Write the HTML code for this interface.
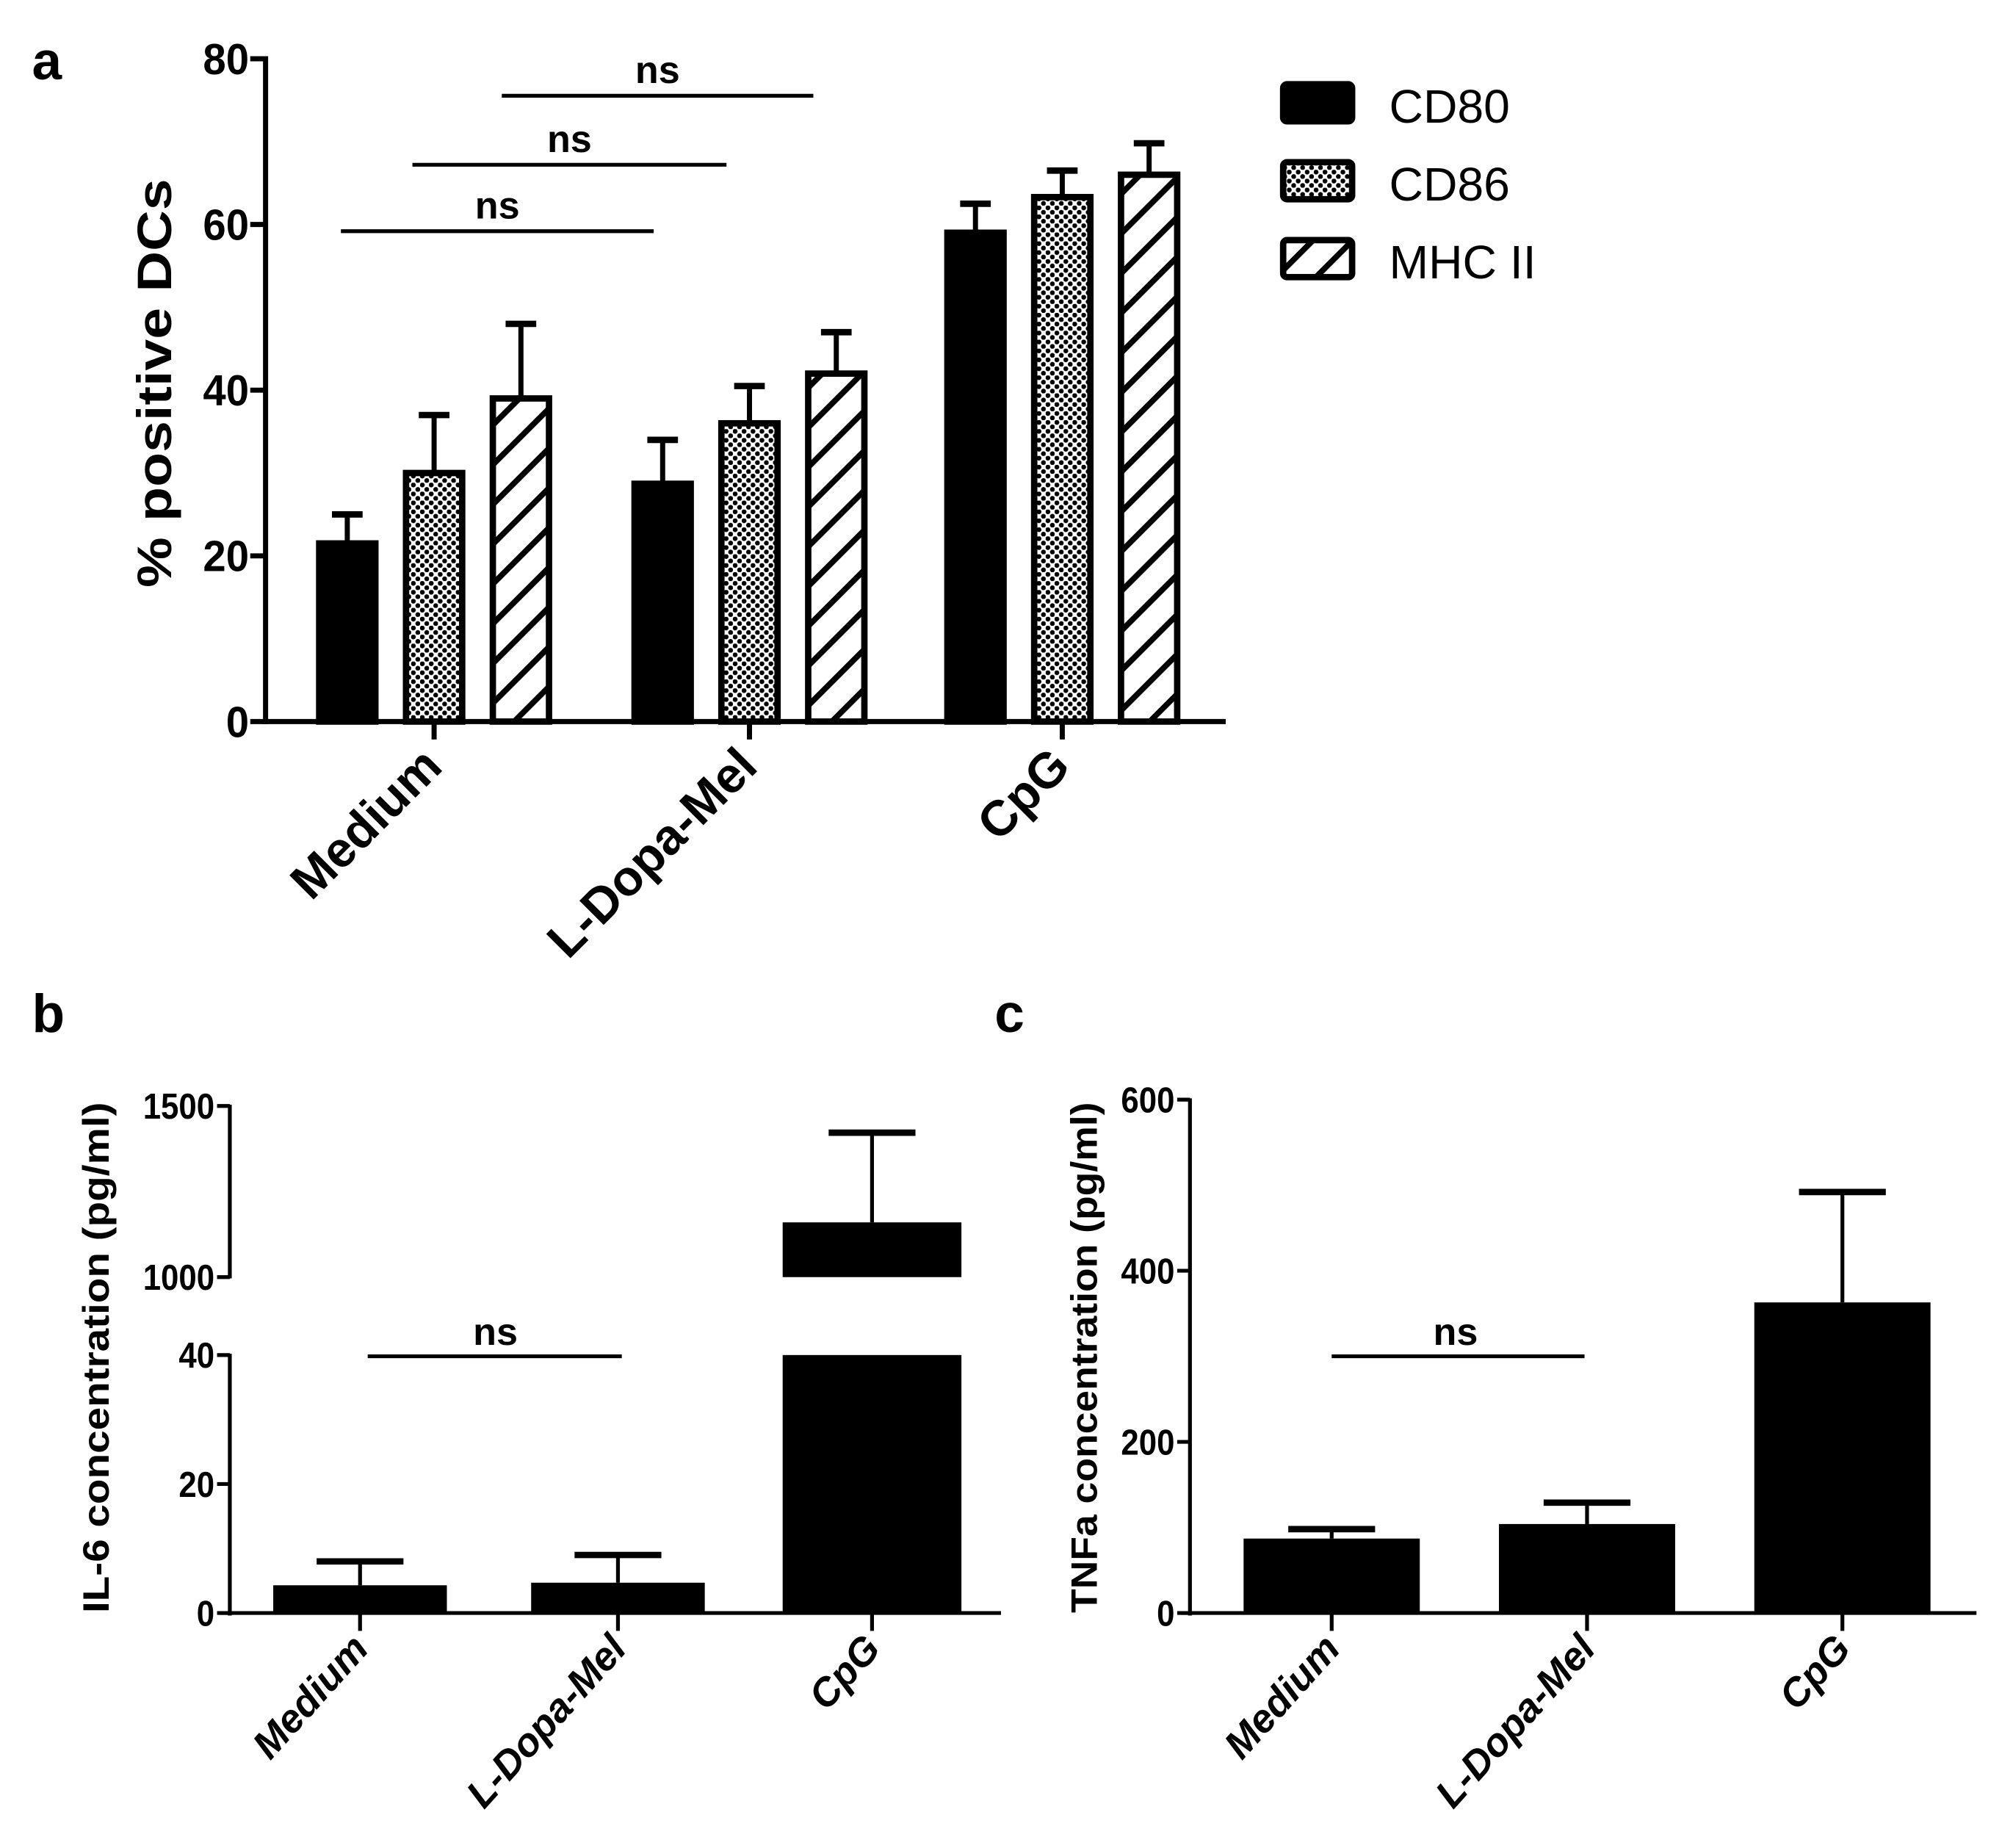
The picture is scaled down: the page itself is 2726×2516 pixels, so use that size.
<!DOCTYPE html>
<html><head><meta charset="utf-8"><style>
html,body{margin:0;padding:0;background:#fff;}
svg{display:block;}
text{font-family:"Liberation Sans",sans-serif;fill:#000;}
</style></head><body>
<svg id="fig" width="2726" height="2516" viewBox="0 0 1568 1447" preserveAspectRatio="none" xmlns="http://www.w3.org/2000/svg">
<defs>
<pattern id="dots" width="7" height="7" patternUnits="userSpaceOnUse">
<rect width="7" height="7" fill="#fff"/>
<circle cx="1.75" cy="1.75" r="1.9" fill="#000"/><circle cx="5.25" cy="5.25" r="1.9" fill="#000"/>
</pattern>
<pattern id="hatch" width="22" height="22" patternUnits="userSpaceOnUse" patternTransform="rotate(45)">
<rect width="22" height="22" fill="#fff"/><rect x="0" y="0" width="4.5" height="22" fill="#000"/>
</pattern>
</defs>
<g id="a"></g>
<g id="b"></g>
<g id="c"></g>
</svg>
<script>
// Panel a data
const aCategories = ["Medium", "L-Dopa-Mel", "CpG"];
const aSeries = ["CD80", "CD86", "MHC II"];
const aCD80 = [21.5, 28.7, 59];
const aCD86 = [30, 36, 63.3];
const aMHC = [39, 42, 66];
const aCD80Err = [25, 34, 62.5];
const aCD86Err = [37, 40.5, 66.5];
const aMHCErr = [48, 47, 69.8];
const aTicks = [0, 20, 40, 60, 80];
// Panel b data
const bCategories = ["Medium", "L-Dopa-Mel", "CpG"];
const bValues = [4.3, 4.7, 1160];
const bErr = [8, 9, 1422];
const bTicksLow = [0, 20, 40];
const bTicksHigh = [1000, 1500];
// Panel c data
const cCategories = ["Medium", "L-Dopa-Mel", "CpG"];
const cValues = [87, 104, 363];
const cErr = [98, 129, 492];
const cTicks = [0, 200, 400, 600];

const NS = "http://www.w3.org/2000/svg";
function mk(parent, tag, attrs, txt){
  const e = document.createElementNS(NS, tag);
  for (const k in attrs) e.setAttribute(k, attrs[k]);
  if (txt !== undefined) e.textContent = txt;
  parent.appendChild(e); return e;
}
const A = document.getElementById('a'), B = document.getElementById('b'), C = document.getElementById('c');

// ---------- Panel a ----------
const ya = v => 565 - v * (519 / 80);
const groupX = [340, 587, 832];
const offs = [-68, 0, 68];
const fills = ["#000", "url(#dots)", "url(#hatch)"];
const vals = [aCD80, aCD86, aMHC], errs = [aCD80Err, aCD86Err, aMHCErr];
let t = mk(A, 'text', {x: 25, y: 62, 'font-size': 42, 'font-weight': 'bold'}, 'a');


aCategories.forEach((cat, i) => {
  for (let s = 0; s < 3; s++) {
    const cx = groupX[i] + offs[s], v = vals[s][i], e = errs[s][i];
    const eb = mk(A, 'line', {x1: cx, x2: cx, y1: ya(v), y2: ya(e), stroke: '#000', 'stroke-width': 4});
    
    
    const cap = mk(A, 'line', {x1: cx - 12, x2: cx + 12, y1: ya(e), y2: ya(e), stroke: '#000', 'stroke-width': 5});
    
    
    const r = mk(A, 'rect', {x: cx - 22, y: ya(v), width: 44, height: ya(0) - ya(v), fill: fills[s], stroke: '#000', 'stroke-width': 5});
    
    
  }
  const tk = mk(A, 'line', {x1: groupX[i], x2: groupX[i], y1: 565, y2: 579, stroke: '#000', 'stroke-width': 4});
  
  
  const lb = mk(A, 'text', {x: 0, y: 0, 'font-size': 39, 'font-weight': 'bold', 'text-anchor': 'end', transform: `translate(${groupX[i] + 8},${602}) rotate(-45)`}, cat);
  
  
});
mk(A, 'line', {x1: 208, x2: 208, y1: 44, y2: 567, stroke: '#000', 'stroke-width': 4});
mk(A, 'line', {x1: 206, x2: 960, y1: 565, y2: 565, stroke: '#000', 'stroke-width': 4});
aTicks.forEach(v => {
  mk(A, 'line', {x1: 196, x2: 208, y1: ya(v), y2: ya(v), stroke: '#000', 'stroke-width': 4});
  const tl = mk(A, 'text', {x: 195, y: ya(v) + 12, 'font-size': 34, 'font-weight': 'bold', 'text-anchor': 'end', textLength: v ? 36 : 18, lengthAdjust: 'spacingAndGlyphs'}, String(v));
  
  
});
t = mk(A, 'text', {x: 0, y: 0, 'font-size': 38, 'font-weight': 'bold', 'text-anchor': 'middle', textLength: 320, lengthAdjust: 'spacingAndGlyphs', transform: 'translate(134,300) rotate(-90)'}, '% positive DCs');


[[267, 512, 181], [323, 569, 129], [393, 637, 75]].forEach(([x1, x2, y]) => {
  const l = mk(A, 'line', {x1, x2, y1: y, y2: y, stroke: '#000', 'stroke-width': 3});
  
  
  const n = mk(A, 'text', {x: (x1 + x2) / 2, y: y - 10, 'font-size': 30, 'font-weight': 'bold', 'text-anchor': 'middle'}, 'ns');
  
  
});
aSeries.forEach((s, i) => {
  const y = 64 + i * 61;
  const r = mk(A, 'rect', {x: 1005, y: y + 2, width: 54, height: 29, fill: fills[i], stroke: '#000', 'stroke-width': 5, rx: 3});
  
  
  const l = mk(A, 'text', {x: 1088, y: y + 32, 'font-size': 37}, s);
  
  
});

// ---------- Panel b (broken axis) ----------
const ybLow = v => 1263 - v * (202 / 40);
const ybHigh = v => 1000 - (v - 1000) * (134 / 500);
const bX = [282, 484, 683];
t = mk(B, 'text', {x: 25, y: 808, 'font-size': 42, 'font-weight': 'bold'}, 'b');


bCategories.forEach((cat, i) => {
  const cx = bX[i], v = bValues[i], e = bErr[i];
  const ey = e > 40 ? ybHigh(e) : ybLow(e);
  const eb = mk(B, 'line', {x1: cx, x2: cx, y1: v > 40 ? ybHigh(v) : ybLow(v), y2: ey, stroke: '#000', 'stroke-width': 3});
  
  
  const cap = mk(B, 'line', {x1: cx - 34, x2: cx + 34, y1: ey, y2: ey, stroke: '#000', 'stroke-width': 5});
  
  
  if (v > 40) {
    const r1 = mk(B, 'rect', {x: cx - 70, y: ybLow(40), width: 140, height: ybLow(0) - ybLow(40), fill: '#000'});
    
    
    const r2 = mk(B, 'rect', {x: cx - 70, y: ybHigh(v), width: 140, height: ybHigh(1000) - ybHigh(v), fill: '#000'});
    
    
  } else {
    const r = mk(B, 'rect', {x: cx - 68, y: ybLow(v), width: 136, height: ybLow(0) - ybLow(v), fill: '#000'});
    
    
  }
  const tk = mk(B, 'line', {x1: cx, x2: cx, y1: 1263, y2: 1277, stroke: '#000', 'stroke-width': 3});
  
  
  const lb = mk(B, 'text', {x: 0, y: 0, 'font-size': 31, 'font-weight': 'bold', 'font-style': 'italic', 'text-anchor': 'end', transform: `translate(${cx + 8},${1292}) rotate(-48)`}, cat);
  
  
});
mk(B, 'line', {x1: 180, x2: 180, y1: 865, y2: 1001, stroke: '#000', 'stroke-width': 3});
mk(B, 'line', {x1: 180, x2: 180, y1: 1060, y2: 1265, stroke: '#000', 'stroke-width': 3});
mk(B, 'line', {x1: 172, x2: 784, y1: 1263, y2: 1263, stroke: '#000', 'stroke-width': 3});
bTicksLow.forEach(v => {
  mk(B, 'line', {x1: 170, x2: 180, y1: ybLow(v), y2: ybLow(v), stroke: '#000', 'stroke-width': 3});
  const tl = mk(B, 'text', {x: 168, y: ybLow(v) + 10, 'font-size': 28, 'font-weight': 'bold', 'text-anchor': 'end', textLength: v ? 28 : 14, lengthAdjust: 'spacingAndGlyphs'}, String(v));
  
  
});
bTicksHigh.forEach(v => {
  mk(B, 'line', {x1: 170, x2: 180, y1: ybHigh(v), y2: ybHigh(v), stroke: '#000', 'stroke-width': 3});
  const tl = mk(B, 'text', {x: 168, y: ybHigh(v) + 10, 'font-size': 28, 'font-weight': 'bold', 'text-anchor': 'end', textLength: 56, lengthAdjust: 'spacingAndGlyphs'}, String(v));
  
  
});
t = mk(B, 'text', {x: 0, y: 0, 'font-size': 29, 'font-weight': 'bold', 'text-anchor': 'middle', textLength: 400, lengthAdjust: 'spacingAndGlyphs', transform: 'translate(85,1063) rotate(-90)'}, 'IL-6 concentration (pg/ml)');


let l2 = mk(B, 'line', {x1: 288, x2: 487, y1: 1062, y2: 1062, stroke: '#000', 'stroke-width': 3});


let n2 = mk(B, 'text', {x: 388, y: 1053, 'font-size': 30, 'font-weight': 'bold', 'text-anchor': 'middle'}, 'ns');



// ---------- Panel c ----------
const yc = v => 1263 - v * (402 / 600);
const cX = [1043, 1243, 1443];
t = mk(C, 'text', {x: 779, y: 808, 'font-size': 42, 'font-weight': 'bold'}, 'c');


cCategories.forEach((cat, i) => {
  const cx = cX[i], v = cValues[i], e = cErr[i];
  const eb = mk(C, 'line', {x1: cx, x2: cx, y1: yc(v), y2: yc(e), stroke: '#000', 'stroke-width': 3});
  
  
  const cap = mk(C, 'line', {x1: cx - 34, x2: cx + 34, y1: yc(e), y2: yc(e), stroke: '#000', 'stroke-width': 5});
  
  
  const r = mk(C, 'rect', {x: cx - 69, y: yc(v), width: 138, height: yc(0) - yc(v), fill: '#000'});
  
  
  const tk = mk(C, 'line', {x1: cx, x2: cx, y1: 1263, y2: 1277, stroke: '#000', 'stroke-width': 3});
  
  
  const lb = mk(C, 'text', {x: 0, y: 0, 'font-size': 31, 'font-weight': 'bold', 'font-style': 'italic', 'text-anchor': 'end', transform: `translate(${cx + 8},${1292}) rotate(-48)`}, cat);
  
  
});
mk(C, 'line', {x1: 932, x2: 932, y1: 860, y2: 1265, stroke: '#000', 'stroke-width': 3});
mk(C, 'line', {x1: 925, x2: 1548, y1: 1263, y2: 1263, stroke: '#000', 'stroke-width': 3});
cTicks.forEach(v => {
  mk(C, 'line', {x1: 922, x2: 932, y1: yc(v), y2: yc(v), stroke: '#000', 'stroke-width': 3});
  const tl = mk(C, 'text', {x: 920, y: yc(v) + 10, 'font-size': 28, 'font-weight': 'bold', 'text-anchor': 'end', textLength: v ? 42 : 14, lengthAdjust: 'spacingAndGlyphs'}, String(v));
  
  
});
t = mk(C, 'text', {x: 0, y: 0, 'font-size': 29, 'font-weight': 'bold', 'text-anchor': 'middle', textLength: 400, lengthAdjust: 'spacingAndGlyphs', transform: 'translate(859,1063) rotate(-90)'}, 'TNFa concentration (pg/ml)');


let l3 = mk(C, 'line', {x1: 1043, x2: 1241, y1: 1062, y2: 1062, stroke: '#000', 'stroke-width': 3});


let n3 = mk(C, 'text', {x: 1140, y: 1053, 'font-size': 30, 'font-weight': 'bold', 'text-anchor': 'middle'}, 'ns');


</script>
</body></html>
